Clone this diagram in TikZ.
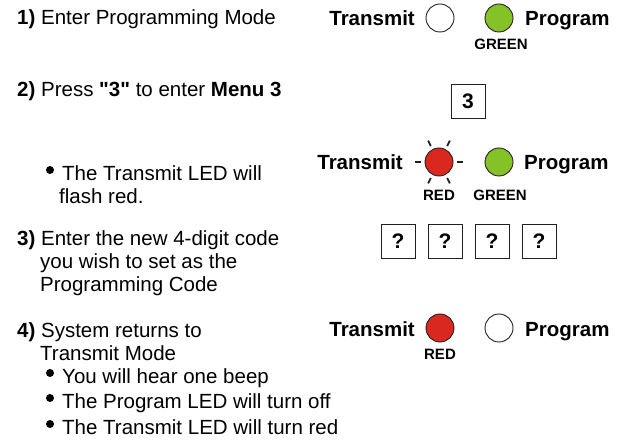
\documentclass[tikz,border=0pt]{standalone}
\usepackage{fontspec}
\setmainfont{Liberation Sans}[Ligatures=TeXOff]
\definecolor{ledred}{RGB}{217,40,32}
\definecolor{ledgreen}{RGB}{132,194,40}
\definecolor{ink}{RGB}{35,31,32}
\begin{document}
\begin{tikzpicture}[x=1pt,y=-1pt,
  body/.style={anchor=base west,inner sep=0pt,font=\fontsize{20.5}{24}\selectfont},
  ledname/.style={inner sep=0pt,font=\bfseries\fontsize{20.5}{24}\selectfont},
  led/.style={circle,draw=ink,line width=0.9pt,minimum size=28pt,inner sep=0pt},
  tag/.style={anchor=base,inner sep=0pt,font=\bfseries\fontsize{15}{18}\selectfont},
  keybox/.style={draw=ink,line width=0.9pt,minimum size=34pt,inner sep=0pt,font=\bfseries\fontsize{21}{24}\selectfont},
  dot/.style={circle,fill=black,minimum size=8pt,inner sep=0pt},
  ray/.style={line width=1.8pt,draw=ink}]
\useasboundingbox (0,0) rectangle (622,446);
% left column
\node[body] (s1) at (17,25) {\textbf{1)} Enter Programming Mode};
\node[body] (s2) at (17,97) {\textbf{2)} Press \textbf{"3"} to enter \textbf{Menu 3}};
\node[dot] (d1) at (50,170) {};
\node[body] (b1a) at (62,181) {The Transmit LED will};
\node[body] (b1b) at (59,204) {flash red.};
\node[body] (s3a) at (17,246) {\textbf{3)} Enter the new 4-digit code};
\node[body] (s3b) at (40,269) {you wish to set as the};
\node[body] (s3c) at (40,292) {Programming Code};
\node[body] (s4a) at (17,338) {\textbf{4)} System returns to};
\node[body] (s4b) at (40,361) {Transmit Mode};
\node[dot] (d2) at (50,373) {};
\node[body] (b2) at (62,384) {You will hear one beep};
\node[dot] (d3) at (50,398) {};
\node[body] (b3) at (62,409) {The Program LED will turn off};
\node[dot] (d4) at (50,424) {};
\node[body] (b4) at (62,435) {The Transmit LED will turn red};
% row 1 LEDs
\node[ledname,anchor=base east] (t1) at (415,26) {Transmit};
\node[led,fill=white] (l1t) at (440,18) {};
\node[led,fill=ledgreen] (l1p) at (499,18) {};
\node[ledname,anchor=base west] (p1) at (525,26) {Program};
\node[tag] (g1) at (501,50) {GREEN};
% key 3
\node[keybox] (k3) at (468,101) {3};
% row 2 LEDs
\node[ledname,anchor=base east] (t2) at (403,170) {Transmit};
\node[led,fill=ledred] (l2t) at (439,162) {};
\foreach \a in {0,63,117,180,243,297}
  \draw[ray] (l2t.center) ++(\a:18) -- ++(\a:6);
\node[led,fill=ledgreen] (l2p) at (499,162) {};
\node[ledname,anchor=base west] (p2) at (524,170) {Program};
\node[tag] (r2) at (439,201) {RED};
\node[tag] (g2) at (500,201) {GREEN};
% code boxes
\node[keybox] (q1) at (398,241) {?};
\node[keybox] (q2) at (445,241) {?};
\node[keybox] (q3) at (492,241) {?};
\node[keybox] (q4) at (539,241) {?};
% row 4 LEDs
\node[ledname,anchor=base east] (t4) at (415,337) {Transmit};
\node[led,fill=ledred] (l4t) at (440,328) {};
\node[led,fill=white] (l4p) at (499,328) {};
\node[ledname,anchor=base west] (p4) at (525,337) {Program};
\node[tag] (r4) at (440,360) {RED};
\end{tikzpicture}
\end{document}
